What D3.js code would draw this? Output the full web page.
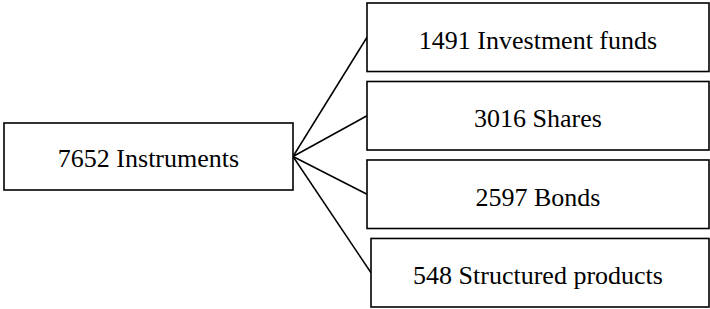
<!DOCTYPE html>
<html>
<head>
<meta charset="utf-8">
<script src="https://cdn.jsdelivr.net/npm/d3@7"></script>
<style>
html,body{margin:0;padding:0;background:#fff;}
svg{display:block;}
</style>
</head>
<body>
<svg id="chart" width="710" height="309"></svg>
<script>
const rootLabel = "Instruments";
const rootValue = 7652;
const categories = ["Investment funds", "Shares", "Bonds", "Structured products"];
const values = [1491, 3016, 2597, 548];

const svg = d3.select("#chart");
const font = "'Liberation Serif', 'Times New Roman', serif";

const y = d3.scaleBand().domain(categories).range([3, 307]).paddingInner(0.127).paddingOuter(0);

const root = {x0: 4, x1: 293, y0: 123, y1: 190};
const childX0 = 367, childX1 = 709;
const rootMid = (root.y0 + root.y1) / 2;
const leftOf = (d, i) => i === 3 ? childX0 + 4 : childX0;

// connectors
svg.selectAll("line.link").data(categories).join("line")
  .attr("x1", root.x1).attr("y1", rootMid)
  .attr("x2", leftOf).attr("y2", d => y(d) + y.bandwidth() / 2)
  .attr("stroke", "#000").attr("stroke-width", 1.5);

// root box
svg.append("rect")
  .attr("x", root.x0).attr("y", root.y0)
  .attr("width", root.x1 - root.x0).attr("height", root.y1 - root.y0)
  .attr("fill", "#fff").attr("stroke", "#000").attr("stroke-width", 1.6);
svg.append("text")
  .attr("x", (root.x0 + root.x1) / 2).attr("y", rootMid + 10)
  .attr("text-anchor", "middle")
  .style("font-family", font).style("font-size", "26px")
  .text(rootValue + " " + rootLabel);

// child boxes
const g = svg.selectAll("g.child").data(categories).join("g").attr("class", "child");
g.append("rect")
  .attr("x", leftOf).attr("y", d => y(d))
  .attr("width", (d, i) => childX1 - leftOf(d, i)).attr("height", y.bandwidth())
  .attr("fill", "#fff").attr("stroke", "#000").attr("stroke-width", 1.6);
g.append("text")
  .attr("x", (childX0 + childX1) / 2)
  .attr("y", d => y(d) + y.bandwidth() / 2 + 11.5)
  .attr("text-anchor", "middle")
  .style("font-family", font).style("font-size", "26px")
  .text((d, i) => values[i] + " " + d);
</script>
</body>
</html>
